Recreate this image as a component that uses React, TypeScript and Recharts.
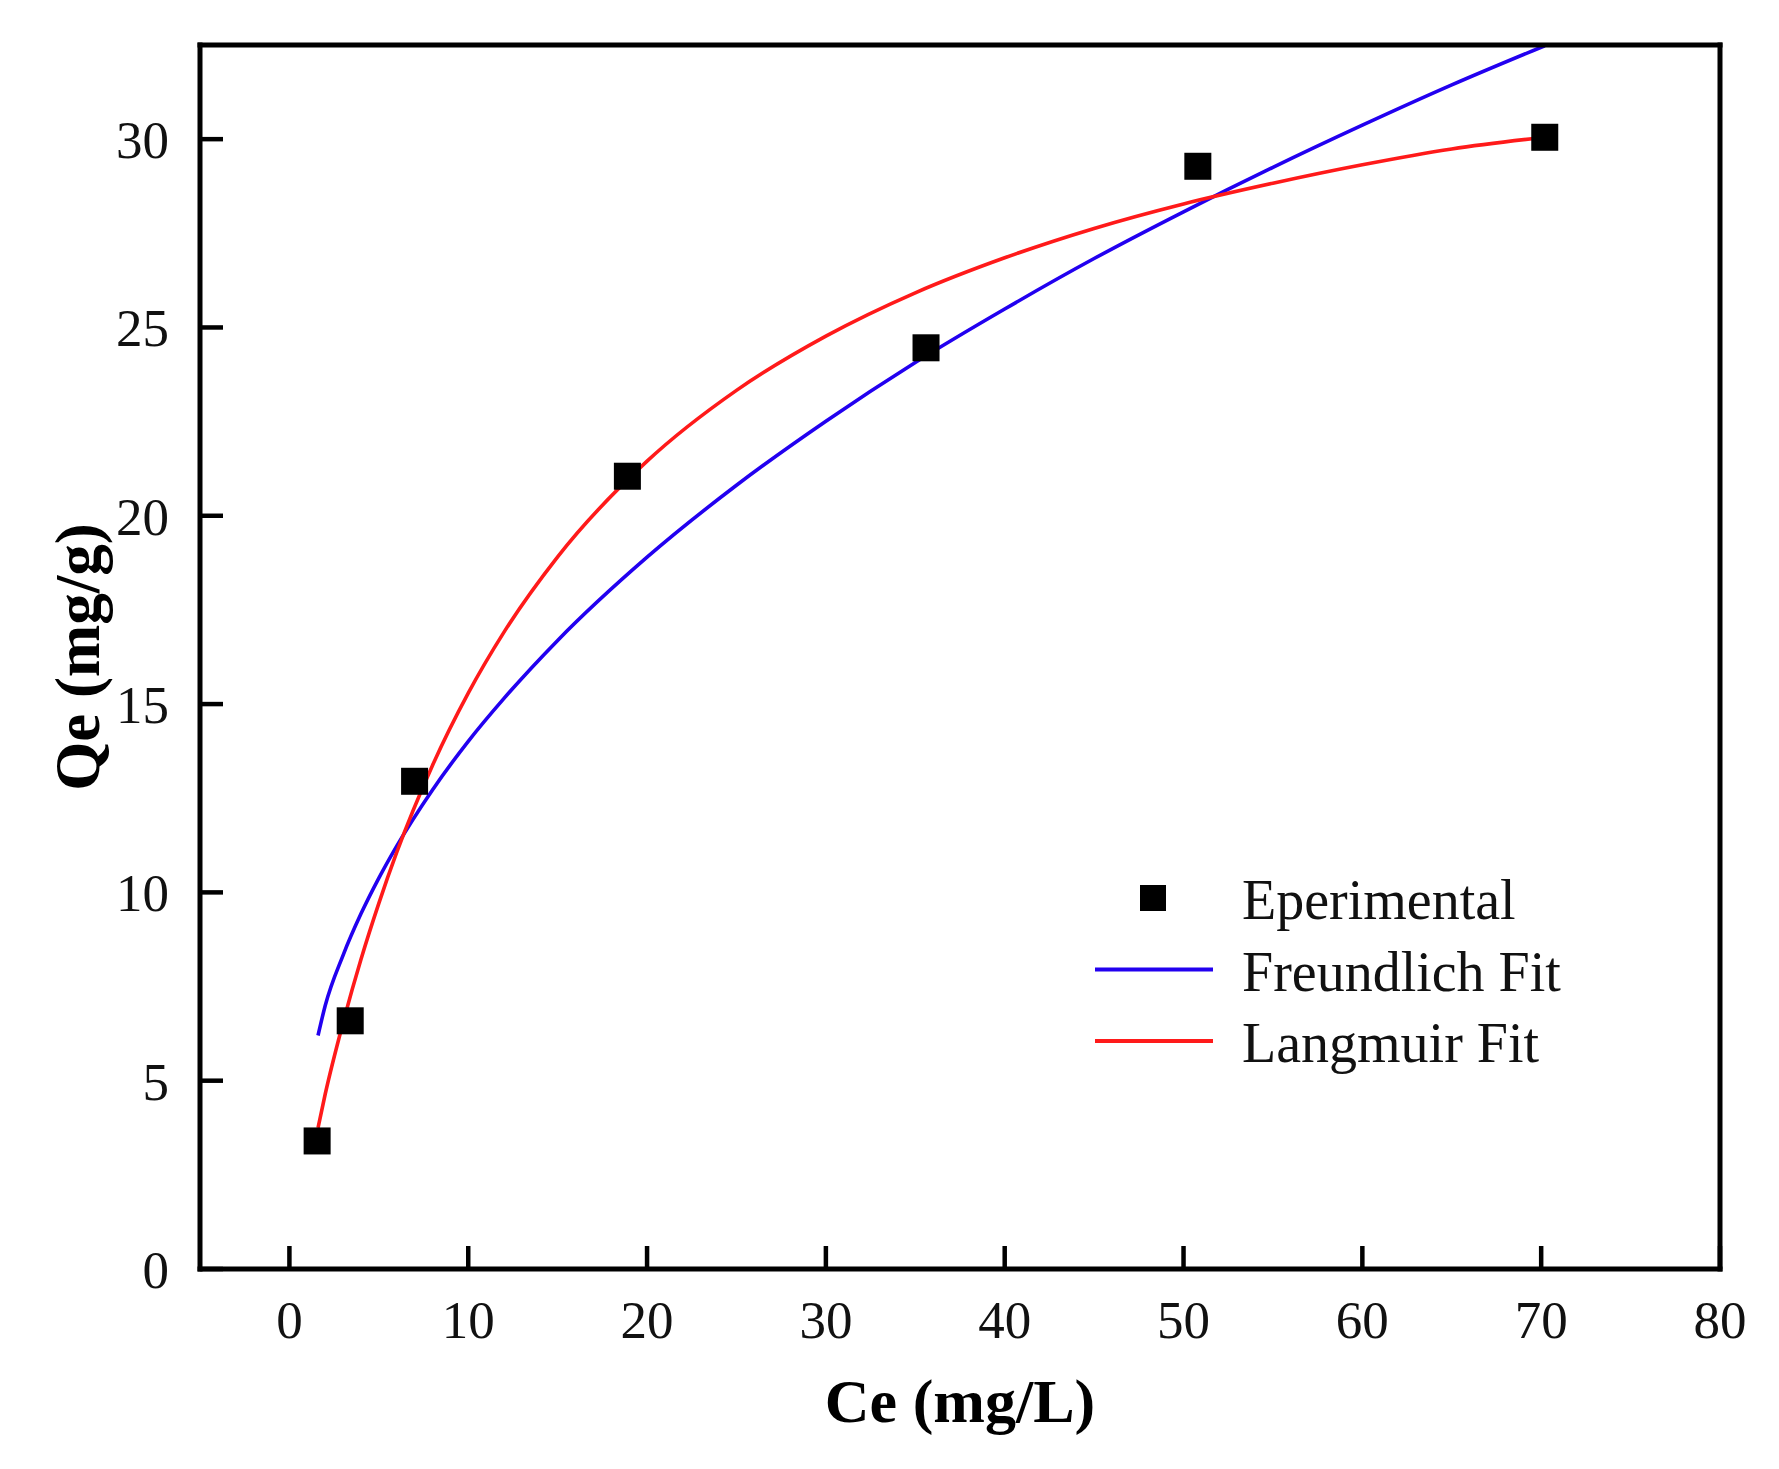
import React from 'react';
import { ComposedChart, Scatter, Line, XAxis, YAxis, Legend, Label } from 'recharts';

// experimental points (Ce, Qe)
const ceValues = [1.55, 3.4, 7.0, 18.9, 35.6, 50.8, 70.2];
const qeValues = [3.4, 6.59, 12.95, 21.05, 24.46, 29.28, 30.05];

// fitted curves at these Ce values
const fitCe = [1.6, 2, 3, 4, 5, 6, 8, 10, 12, 15, 20, 25, 30, 35, 40, 45, 50, 55, 60, 65, 70.2];
const freundlichQe = [6.2, 6.99, 8.33, 9.43, 10.38, 11.23, 12.72, 14.01, 15.15, 16.69, 18.9, 20.81, 22.51, 24.07, 25.49, 26.83, 28.07, 29.25, 30.37, 31.44, 32.48];
const langmuirQe = [3.75, 4.64, 6.54, 8.22, 9.71, 11.06, 13.37, 15.29, 16.91, 18.91, 21.45, 23.33, 24.77, 25.92, 26.85, 27.63, 28.28, 28.83, 29.32, 29.74, 30.05];

const xTicks = [0, 10, 20, 30, 40, 50, 60, 70, 80];
const yTicks = [0, 5, 10, 15, 20, 25, 30];
const legendOrder = ['Eperimental', 'Freundlich Fit', 'Langmuir Fit'];

const FONT = '"Liberation Serif", "Times New Roman", serif';
const TICK_LEN = 23;
const TICK_GAP = 31;
const AXIS = { stroke: '#000', strokeWidth: 5, strokeLinecap: 'square' as const };

const experimental = ceValues.map((x, i) => ({ x, y: qeValues[i] }));
const freundlich = fitCe.map((x, i) => ({ x, y: freundlichQe[i] }));
const langmuir = fitCe.map((x, i) => ({ x, y: langmuirQe[i] }));

// ticks point into the plot, labels sit outside
const XTick = (props: any) => {
  const { x, y, payload } = props;
  const axisY = y - TICK_GAP;
  return (
    <g>
      <line x1={x} x2={x} y1={axisY} y2={axisY - TICK_LEN} stroke="#000" strokeWidth={4.5} />
      <text x={x} y={y} dy="0.71em" textAnchor="middle" fontFamily={FONT} fontSize={53} fill="#111">
        {payload.value}
      </text>
    </g>
  );
};

const YTick = (props: any) => {
  const { x, y, payload } = props;
  const axisX = x + TICK_GAP;
  return (
    <g>
      <line x1={axisX} x2={axisX + TICK_LEN} y1={y} y2={y} stroke="#000" strokeWidth={4.5} />
      <text x={x} y={y} dy="0.355em" textAnchor="end" fontFamily={FONT} fontSize={53} fill="#111">
        {payload.value}
      </text>
    </g>
  );
};

const SquareDot = (props: any) => {
  const { cx, cy } = props;
  return <rect x={cx - 13.5} y={cy - 13.5} width={27} height={27} fill="#000" />;
};

const LegendBox = ({ payload }: any) => {
  const items = [...(payload || [])].sort(
    (a: any, b: any) => legendOrder.indexOf(a.value) - legendOrder.indexOf(b.value)
  );
  return (
    <svg width={520} height={230} style={{ display: 'block' }}>
      {items.map((item: any, i: number) => {
        const base = 59 + i * 71.5;
        const cy = base - 21;
        return (
          <g key={item.value}>
            {item.type === 'square' ? (
              <rect x={60} y={cy - 13} width={26} height={26} fill="#000" />
            ) : (
              <line x1={15} x2={133} y1={cy} y2={cy} stroke={item.color} strokeWidth={4} />
            )}
            <text x={162} y={base} fontFamily={FONT} fontSize={56} fill="#111">
              {item.value}
            </text>
          </g>
        );
      })}
    </svg>
  );
};

const App: React.FC = () => {
  return (
    <div style={{ position: 'absolute', left: 0, top: 0, width: 1779, height: 1469, background: '#fff' }}>
      <ComposedChart width={1779} height={1469} margin={{ top: 44, right: 58, bottom: 199, left: 199 }}>
        <XAxis
          dataKey="x"
          type="number"
          domain={[-5, 80]}
          ticks={xTicks}
          interval={0}
          allowDataOverflow
          height={1}
          tickSize={0}
          tickMargin={TICK_GAP}
          tickLine={false}
          axisLine={AXIS}
          tick={XTick}
        >
          <Label
            content={({ viewBox }: any) => (
              <text
                x={viewBox.x + viewBox.width / 2}
                y={viewBox.y + 153}
                textAnchor="middle"
                fontFamily={FONT}
                fontWeight="bold"
                fontSize={62}
                fill="#000"
              >
                Ce (mg/L)
              </text>
            )}
          />
        </XAxis>
        <YAxis
          dataKey="y"
          type="number"
          domain={[0, 32.5]}
          ticks={yTicks}
          interval={0}
          allowDataOverflow
          width={1}
          tickSize={0}
          tickMargin={TICK_GAP}
          tickLine={false}
          axisLine={AXIS}
          tick={YTick}
        >
          <Label
            content={({ viewBox }: any) => {
              const lx = viewBox.x + viewBox.width - 101;
              const ly = viewBox.y + viewBox.height / 2;
              return (
                <text
                  x={lx}
                  y={ly}
                  transform={`rotate(-90, ${lx}, ${ly})`}
                  textAnchor="middle"
                  fontFamily={FONT}
                  fontWeight="bold"
                  fontSize={63}
                  fill="#000"
                >
                  Qe (mg/g)
                </text>
              );
            }}
          />
        </YAxis>
        {/* frame: top and right edges */}
        <XAxis xAxisId="top" orientation="top" type="number" domain={[-5, 80]} height={1} tick={false} tickLine={false} axisLine={AXIS} />
        <YAxis yAxisId="right" orientation="right" type="number" domain={[0, 32.5]} width={1} tick={false} tickLine={false} axisLine={AXIS} />

        <Legend
          layout="vertical"
          align="center"
          verticalAlign="middle"
          wrapperStyle={{ left: 1080, top: 860, width: 520, height: 230 }}
          content={LegendBox}
        />

        <Line
          name="Freundlich Fit"
          data={freundlich}
          dataKey="y"
          type="monotone"
          stroke="#2200f0"
          strokeWidth={3.6}
          dot={false}
          activeDot={false}
          legendType="line"
          isAnimationActive={false}
        />
        <Line
          name="Langmuir Fit"
          data={langmuir}
          dataKey="y"
          type="monotone"
          stroke="#ff1a1a"
          strokeWidth={3.6}
          dot={false}
          activeDot={false}
          legendType="line"
          isAnimationActive={false}
        />
        <Scatter
          name="Eperimental"
          data={experimental}
          dataKey="y"
          fill="#000"
          legendType="square"
          shape={SquareDot}
          isAnimationActive={false}
        />
      </ComposedChart>
    </div>
  );
};

export default App;
